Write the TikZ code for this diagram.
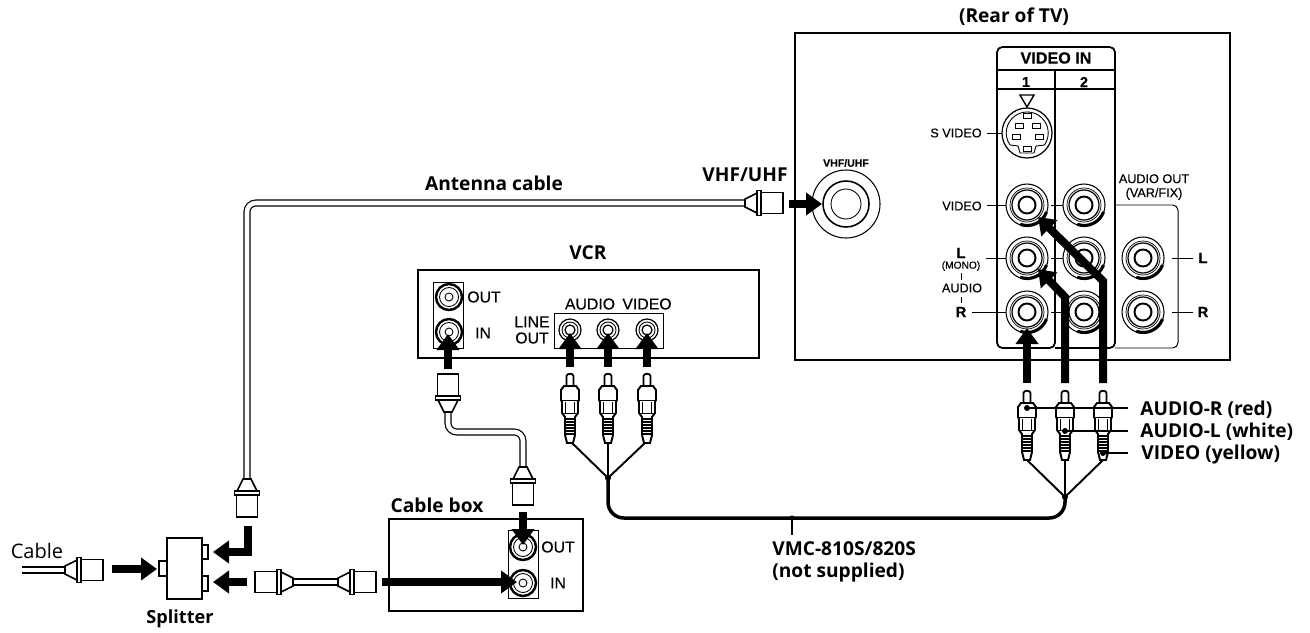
\documentclass[tikz,border=0pt]{standalone}
\usepackage{fontspec}
\setmainfont{Open Sans}
\newfontfamily\panelfont[FakeBold=0.3]{Liberation Sans}
\usetikzlibrary{arrows.meta}

\tikzset{
    rcajack/.pic={
        \draw[line width=0.6pt,fill=white] (0,0) circle (21);
        \draw[line width=1.8pt] (19.5,7) arc[start angle=20,end angle=110,radius=20.5];
        \draw[line width=0.4pt] (0,0) circle (17);
        \draw[line width=0.7pt] (0,0) circle (15);
        \draw[line width=1.1pt] (0,0) circle (8.5);
    },
    smalljack/.pic={
        \draw[line width=0.7pt,fill=white] (0,0) circle (11);
        \draw[line width=0.5pt] (0,0) circle (8);
        \draw[line width=0.7pt] (0,0) circle (5);
    },
    coaxjack/.pic={
        \draw[line width=1.4pt,fill=white] (0,0) circle (13);
        \draw[line width=0.5pt] (0,0) circle (9.5);
        \draw[line width=0.5pt] (0,0) circle (4);
    },
    rcaplug/.pic={
        \draw[line width=1pt,fill=white] (-3.5,14) -- (-3.5,3) .. controls (-3.5,0) and (3.5,0) .. (3.5,3) -- (3.5,14);
        \draw[line width=1.1pt,fill=white] (-6,13) -- (6,13) -- (9,17) -- (9,27) -- (8,29) -- (8,40) -- (5,44) -- (5,62) -- (3,70) -- (-3,70) -- (-5,62) -- (-5,44) -- (-8,40) -- (-8,29) -- (-9,27) -- (-9,17) -- cycle;
        \draw[line width=0.5pt] (-9,27) -- (9,27) (-4.5,29) -- (-4.5,40) (4.5,29) -- (4.5,40) (-8,40) -- (8,40);
        \draw[line width=0.7pt] (-5,46) -- (5,46) (-5,49) -- (5,49) (-5,52) -- (5,52) (-5,55) -- (5,55) (-5,58) -- (5,58) (-5,61) -- (5,61);
    },
    coaxplug/.pic={
        \draw[line width=0.9pt,fill=white] (0,-4) -- (12,-10) -- (12,10) -- (0,4) -- cycle;
        \draw[line width=0.9pt,fill=white] (12,-12.5) rectangle (16,12.5);
        \draw[line width=1pt,fill=white] (16,-10.5) rectangle (38,10.5);
    }
}

\begin{document}
\begin{tikzpicture}[
    x=0.02cm,y=-0.02cm,
    bigtext/.style={font=\bfseries\fontsize{10.9}{12.5}\selectfont,align=left,inner sep=0pt},
    devicetext/.style={font=\panelfont\fontsize{9}{9.2}\selectfont,align=center,inner sep=0pt},
    paneltext/.style={font=\panelfont\fontsize{7.2}{8}\selectfont,align=center,inner sep=0pt},
    panelhead/.style={font=\panelfont\bfseries\fontsize{8.2}{9}\selectfont,inner sep=0pt},
    frameline/.style={line width=1pt},
    thinline/.style={line width=0.55pt},
    leaderline/.style={line width=0.7pt},
    coaxcable/.style={line width=0.7pt,double=white,double distance=2.6pt,rounded corners=5pt},
    bigarrow/.style={-{Triangle[length=0.32cm,width=0.44cm]},line width=0.16cm},
    blackcable/.style={line width=2pt,rounded corners=9pt},
    branchwire/.style={line width=1.1pt}
]
\useasboundingbox (0,0) rectangle (1310,632);

% Rear of TV
\node[bigtext] (reartitle) at (1014,17) {(Rear of TV)};
\draw[frameline] (795,33) rectangle (1230,360);
\draw[frameline,rounded corners=3pt] (997,70) -- (997,47) -- (1115,47) -- (1115,70);
\draw[frameline] (997,70) -- (1115,70);
\draw[frameline,rounded corners=3pt] (1055,70) -- (1055,348) -- (997,348) -- (997,70);
\draw[frameline,rounded corners=3pt] (1055,348) -- (1115,348) -- (1115,70);
\draw[frameline] (997,89) -- (1115,89);
\draw[thinline,rounded corners=3pt] (1115,205) -- (1178,205) -- (1178,348) -- (1115,348);
\node[panelhead,font=\panelfont\bfseries\fontsize{9.2}{10}\selectfont] (videoin) at (1056,58) {VIDEO IN};
\node[panelhead] (inputa) at (1026,82) {1};
\node[panelhead] (inputb) at (1084,82) {2};

% Antenna socket
\coordinate (vhfjack) at (846,204);
\draw[line width=0.6pt] (vhfjack) circle (34);
\draw[line width=0.9pt] (vhfjack) circle (23);
\draw[line width=0.5pt] (vhfjack) circle (15);
\node[paneltext,font=\panelfont\bfseries\fontsize{6}{7}\selectfont] (vhfsmall) at (846,163) {VHF/UHF};
\node[bigtext] (vhfbig) at (745,175) {VHF/UHF};

% S video socket
\coordinate (svideo) at (1027,133);
\draw[line width=0.7pt,fill=white] (svideo) circle (25);
\draw[line width=0.5pt] (1010,145) arc[start angle=145,end angle=395,radius=21] -- (1036,146) -- (1034,153) -- (1020,153) -- (1018,146) -- cycle;
\draw[thinline] (1023,113.5) rectangle (1031,118.5);
\draw[thinline] (1015,123.5) rectangle (1023,128.5);
\draw[thinline] (1032,123.5) rectangle (1040,128.5);
\draw[thinline] (1012,134.5) rectangle (1020,139.5);
\draw[thinline] (1035,134.5) rectangle (1043,139.5);
\draw[thinline] (1023,146) rectangle (1031,151);
\draw[line width=0.8pt] (1020,95) -- (1034,95) -- (1027,107) -- cycle;

% Sockets of the TV
\pic at (1027,205) {rcajack};
\pic at (1084,205) {rcajack};
\pic at (1027,258) {rcajack};
\pic at (1084,258) {rcajack};
\pic at (1027,312) {rcajack};
\pic at (1084,312) {rcajack};
\pic at (1143,258) {rcajack};
\pic at (1143,312) {rcajack};

% Labels of the sockets
\node[paneltext,anchor=east] (svideotext) at (982,133) {S VIDEO};
\node[paneltext,anchor=east] (videotext) at (982,206) {VIDEO};
\node[paneltext] (ltext) at (961,253) {\fontsize{8.4}{9}\selectfont\bfseries L};
\node[paneltext,font=\panelfont\fontsize{5.8}{6}\selectfont] (monotext) at (961,266) {(MONO)};
\node[paneltext] (audiotext) at (962,288) {AUDIO};
\node[paneltext] (rtext) at (961,312) {\fontsize{8.4}{9}\selectfont\bfseries R};
\node[paneltext] (audioout) at (1154,187) {AUDIO OUT\\(VAR/FIX)};
\node[paneltext] (outl) at (1203,258) {\fontsize{8.4}{9}\selectfont\bfseries L};
\node[paneltext] (outr) at (1203,312) {\fontsize{8.4}{9}\selectfont\bfseries R};
\draw[thinline] (987,133) -- (1002,133);
\draw[thinline] (987,205) -- (1006,205);
\draw[thinline] (986,258) -- (1006,258);
\draw[thinline] (972,312) -- (1006,312);
\draw[thinline] (1051,205) -- (1063,205);
\draw[thinline] (1051,258) -- (1063,258);
\draw[thinline] (1051,312) -- (1063,312);
\draw[thinline] (1172,258) -- (1193,258);
\draw[thinline] (1172,312) -- (1193,312);
\draw[thinline] (961,273) -- (961,280);
\draw[thinline] (961,297) -- (961,303);

% VCR
\node[bigtext] (vcr) at (588,253) {VCR};
\draw[line width=1.2pt] (418,270) rectangle (759,358);
\draw[thinline] (433,282) rectangle (463,348);
\draw[thinline] (554,313) rectangle (663,348);
\pic at (449,297) {coaxjack};
\pic at (449,332) {coaxjack};
\pic at (570,330) {smalljack};
\pic at (608,330) {smalljack};
\pic at (647,330) {smalljack};
\node[devicetext] (vcrout) at (484,297) {OUT};
\node[devicetext] (vcrin) at (483,333) {IN};
\node[devicetext] (lineout) at (532,330) {LINE\\OUT};
\node[devicetext] (vcraudio) at (590,304) {AUDIO};
\node[devicetext] (vcrvideo) at (647,304) {VIDEO};

% Cable box
\node[bigtext] (cablebox) at (437,505) {Cable box};
\draw[line width=1.2pt] (389,519) rectangle (583,611);
\draw[thinline] (508,530) rectangle (538,598);
\pic at (523,547) {coaxjack};
\pic at (523,583) {coaxjack};
\node[devicetext] (boxout) at (558,547) {OUT};
\node[devicetext] (boxin) at (558,583) {IN};

% Splitter
\draw[line width=1.2pt,fill=white] (167,538) rectangle (202,599);
\draw[line width=1pt,fill=white] (159,561) rectangle (167,576);
\draw[line width=1pt,fill=white] (202,545) rectangle (208,559);
\draw[line width=1pt,fill=white] (202,576) rectangle (208,591);
\node[bigtext,font=\bfseries\fontsize{10.3}{12}\selectfont] (splitter) at (180,619) {Splitter};
\node[bigtext,font=\fontsize{11.4}{12}\selectfont] (cabletext) at (37,551) {Cable};

% Cable ends
\coordinate (cablein) at (22,570);
\coordinate (cableplug) at (65,570);
\coordinate (antennaplug) at (745,203);
\coordinate (antennacorner) at (247,203);
\coordinate (antennaend) at (247,479);
\coordinate (splitout) at (293,582);
\coordinate (boxinplug) at (338,582);
\coordinate (vcrplug) at (448,412);
\coordinate (loopcornera) at (448,432);
\coordinate (loopcornerb) at (523,432);
\coordinate (boxoutplug) at (523,467);

% Coax cables
\draw[coaxcable] (cablein) -- (cableplug);
\draw[coaxcable] (antennaplug) -- (antennacorner) -- (antennaend);
\draw[coaxcable] (splitout) -- (boxinplug);
\draw[coaxcable] (vcrplug) -- (loopcornera) -- (loopcornerb) -- (boxoutplug);
\pic at (cableplug) {coaxplug};
\pic[rotate=180] at (splitout) {coaxplug};
\pic at (boxinplug) {coaxplug};
\pic at (antennaplug) {coaxplug};
\pic[rotate=-90] at (antennaend) {coaxplug};
\pic[rotate=90] at (vcrplug) {coaxplug};
\pic[rotate=-90] at (boxoutplug) {coaxplug};
\node[bigtext] (antennatext) at (494,183) {Antenna cable};

% Audio video cord
\coordinate (forkleft) at (608,478);
\coordinate (forkright) at (1065,497);
\coordinate (cordleft) at (608,518);
\coordinate (cordright) at (1065,518);
\coordinate (plugaleft) at (570,441);
\coordinate (plugbleft) at (608,441);
\coordinate (plugcleft) at (647,441);
\coordinate (plugaright) at (1027,460);
\coordinate (plugbright) at (1065,460);
\coordinate (plugcright) at (1103,460);
\draw[blackcable] (forkleft) -- (cordleft) -- (cordright) -- (forkright);
\draw[branchwire] (plugaleft) -- (forkleft);
\draw[branchwire] (plugbleft) -- (forkleft);
\draw[branchwire] (plugcleft) -- (forkleft);
\draw[branchwire] (plugaright) -- (forkright);
\draw[branchwire] (plugbright) -- (forkright);
\draw[branchwire] (plugcright) -- (forkright);
\fill (forkleft) circle (3);
\fill (forkright) circle (3);
\pic at (570,373) {rcaplug};
\pic at (608,373) {rcaplug};
\pic at (647,373) {rcaplug};
\pic at (1027,390) {rcaplug};
\pic at (1065,390) {rcaplug};
\pic at (1103,390) {rcaplug};
\coordinate (cordtick) at (792,518);
\coordinate (cordlabel) at (792,535);
\draw[leaderline] (cordtick) -- (cordlabel);
\fill (cordtick) circle (2.5);
\node[bigtext,anchor=north west] (cordtext) at (772,541) {VMC-810S/820S\\(not supplied)};

% Plug colours
\coordinate (reddot) at (1027,408);
\coordinate (whitedot) at (1065,431);
\coordinate (yellowdot) at (1103,453);
\coordinate (redend) at (1128,408);
\coordinate (whiteend) at (1128,431);
\coordinate (yellowend) at (1128,453);
\node[bigtext,anchor=west] (redtext) at (1140,410) {AUDIO-R (red)};
\node[bigtext,anchor=west] (whitetext) at (1140,432) {AUDIO-L (white)};
\node[bigtext,anchor=west] (yellowtext) at (1141,455) {VIDEO (yellow)};
\draw[leaderline] (reddot) -- (redend);
\draw[leaderline] (whitedot) -- (whiteend);
\draw[leaderline] (yellowdot) -- (yellowend);
\fill (reddot) circle (3);
\fill (whitedot) circle (3);
\fill (yellowdot) circle (3);

% Arrows
\coordinate (rbase) at (1027,383);
\coordinate (rtip) at (1027,328);
\coordinate (lbase) at (1065,383);
\coordinate (lbend) at (1065,297);
\coordinate (ltip) at (1038,269);
\coordinate (vbase) at (1103,383);
\coordinate (vbend) at (1103,281);
\coordinate (vtip) at (1038,217);
\draw[bigarrow] (rbase) -- (rtip);
\draw[bigarrow] (lbase) -- (lbend) -- (ltip);
\draw[bigarrow] (vbase) -- (vbend) -- (vtip);
\coordinate (vhfbase) at (789,204);
\coordinate (vhftip) at (822,204);
\draw[bigarrow] (vhfbase) -- (vhftip);
\coordinate (inbase) at (448,369);
\coordinate (intip) at (448,334);
\draw[bigarrow] (inbase) -- (intip);
\coordinate (abase) at (570,367);
\coordinate (atip) at (570,333);
\draw[bigarrow] (abase) -- (atip);
\coordinate (bbase) at (608,367);
\coordinate (btip) at (608,333);
\draw[bigarrow] (bbase) -- (btip);
\coordinate (cbase) at (647,367);
\coordinate (ctip) at (647,333);
\draw[bigarrow] (cbase) -- (ctip);
\coordinate (boxbase) at (523,512);
\coordinate (boxtip) at (523,545);
\draw[bigarrow] (boxbase) -- (boxtip);
\coordinate (feedbase) at (382,582);
\coordinate (feedtip) at (517,582);
\draw[bigarrow] (feedbase) -- (feedtip);
\coordinate (cablebase) at (112,569);
\coordinate (cabletip) at (157,569);
\draw[bigarrow] (cablebase) -- (cabletip);
\coordinate (upperbase) at (248,526);
\coordinate (upperbend) at (248,552);
\coordinate (uppertip) at (213,552);
\draw[bigarrow] (upperbase) -- (upperbend) -- (uppertip);
\coordinate (lowerbase) at (247,582);
\coordinate (lowertip) at (213,582);
\draw[bigarrow] (lowerbase) -- (lowertip);

\end{tikzpicture}
\end{document}
